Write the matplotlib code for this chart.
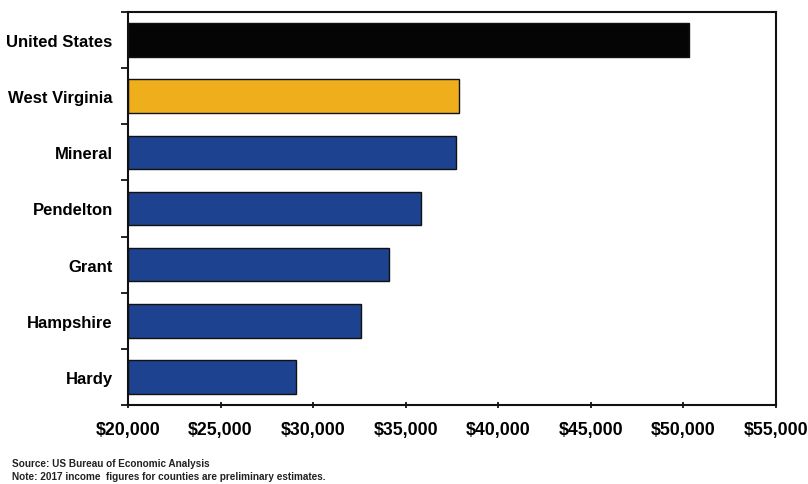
import matplotlib.pyplot as plt
from matplotlib.ticker import FuncFormatter

# Per capita income, 2017
areas = ["United States", "West Virginia", "Mineral", "Pendelton", "Grant", "Hampshire", "Hardy"]
income = [50300, 37900, 37700, 35800, 34100, 32570, 29090]
bar_colors = ["#050505", "#EFAE1C", "#1D428F", "#1D428F", "#1D428F", "#1D428F", "#1D428F"]
x_ticks = [20000, 25000, 30000, 35000, 40000, 45000, 50000, 55000]

plt.rcParams['font.family'] = ['Liberation Sans', 'DejaVu Sans']

fig = plt.figure(figsize=(8.08, 4.85), dpi=100)
ax = fig.add_axes([0.1584, 0.1629, 0.8020, 0.8103])

ypos = list(range(len(areas)))
ax.barh(ypos, [v - x_ticks[0] for v in income], left=x_ticks[0], height=0.6,
        color=bar_colors, edgecolor="#111111", linewidth=1.0)

ax.set_xlim(x_ticks[0], x_ticks[-1])
ax.set_ylim(len(areas) - 0.5, -0.5)
ax.set_xticks(x_ticks)
ax.xaxis.set_major_formatter(FuncFormatter(lambda v, p: "${:,.0f}".format(v)))

ax.set_yticks(ypos)
ax.set_yticklabels(areas)
ax.set_yticks([i - 0.5 for i in range(len(areas) + 1)], minor=True)
ax.tick_params(axis='y', which='major', length=0, pad=11)
ax.tick_params(axis='y', which='minor', length=5, width=1.2, direction='out')
ax.tick_params(axis='x', length=5, width=1.2, direction='inout', pad=9)

for lab in ax.get_yticklabels():
    lab.set_fontweight('bold')
    lab.set_fontsize(12)
for lab in ax.get_xticklabels():
    lab.set_fontweight('bold')
    lab.set_fontsize(12.8)

for s in ax.spines.values():
    s.set_linewidth(1.5)
    s.set_color("#111111")

fig.text(0.015, 0.037, "Source: US Bureau of Economic Analysis", fontsize=7.2, fontweight='bold', color="#222222")
fig.text(0.015, 0.010, "Note: 2017 income  figures for counties are preliminary estimates.", fontsize=7.2,
         fontweight='bold', color="#222222")

fig.savefig("out.png", dpi=100)
